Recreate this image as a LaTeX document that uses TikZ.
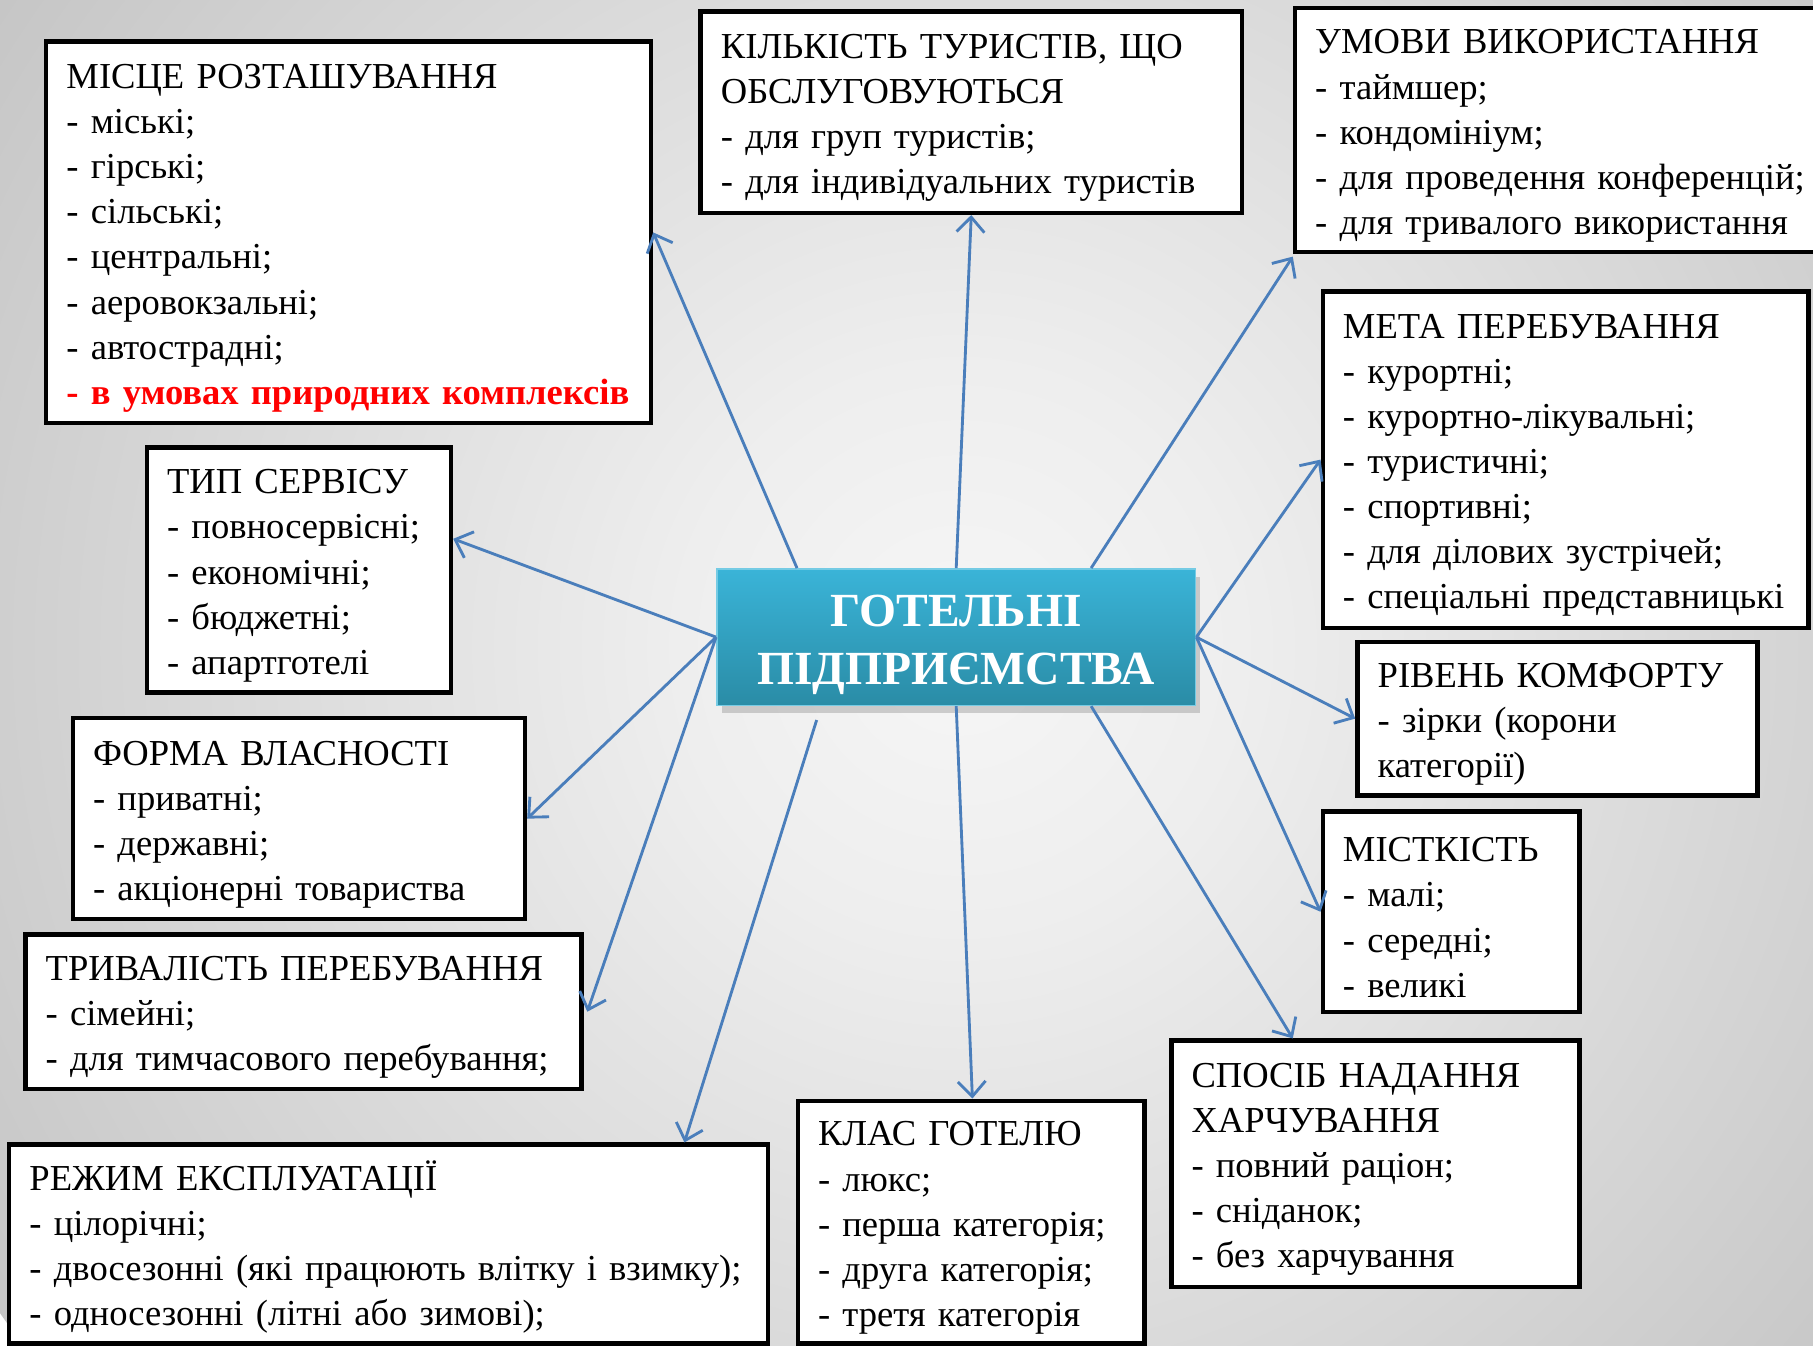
\documentclass[tikz,border=0pt]{standalone}
\usepackage{fontspec}
\setmainfont{Liberation Serif}
\usepackage{tikz}
\usetikzlibrary{arrows.meta,shadows}

\definecolor{bgmid}{HTML}{F6F6F6}
\definecolor{bgnear}{HTML}{EEEEEE}
\definecolor{bglight}{HTML}{BFBFBF}
\definecolor{bgedge}{HTML}{A2A2A2}
\definecolor{bgcorner}{HTML}{8A8A8A}
\definecolor{arrblue}{HTML}{4A7EBB}
\definecolor{hubtop}{HTML}{3AB4D8}
\definecolor{hubbot}{HTML}{2A8CA6}

\pgfdeclareradialshading{bgglow}{\pgfpoint{0bp}{0bp}}{color(0bp)=(bgmid); color(6bp)=(bgnear); color(28bp)=(bglight); color(41bp)=(bgedge); color(50bp)=(bgcorner)}

\tikzset{
	cat/.style={draw=black, line width=1.1pt, fill=white, align=left, inner xsep=0pt, inner ysep=0pt, font=\fontsize{9pt}{11.1pt}\selectfont, execute at begin node={\rule{0pt}{3.1mm}}},
	hubbox/.style={top color=hubtop, bottom color=hubbot, draw=hubtop!70!white, line width=0.4pt, text=white, align=center, inner sep=0pt, font=\fontsize{11.7pt}{14.2pt}\selectfont\bfseries, drop shadow={opacity=0.35, shadow xshift=0.4mm, shadow yshift=-0.7mm}},
	link/.style={draw=arrblue, line width=0.7pt, -{Straight Barb[length=1.3mm,width=2.4mm]}}
}

\begin{document}
\begin{tikzpicture}[x=0.1mm, y=-0.1mm]
	
	\useasboundingbox (0,0) rectangle (1568,1164);
	\begin{scope}
		\clip (0,0) rectangle (1568,1164);
		\shade[shading=bgglow] (830,560) circle (1010);
	\end{scope}
	
	\node[hubbox, minimum width=41.4mm, minimum height=11.8mm] (hub) at (827,551) {\rule{0pt}{4mm}ГОТЕЛЬНІ\\ПІДПРИЄМСТВА};
	
	\node[cat, minimum width=52.3mm, minimum height=33mm, text width=48.8mm] (mistse) at (301.5,201) {МІСЦЕ РОЗТАШУВАННЯ\\- міські;\\- гірські;\\- сільські;\\- центральні;\\- аеровокзальні;\\- автострадні;\\\mbox{\textcolor{red}{\textbf{- в умовах природних комплексів}}}};
	\node[cat, minimum width=46.8mm, minimum height=17.4mm, text width=43.3mm] (kilkist) at (840,97) {КІЛЬКІСТЬ ТУРИСТІВ, ЩО\\ОБСЛУГОВУЮТЬСЯ\\- для груп туристів;\\- для індивідуальних туристів};
	\node[cat, minimum width=48mm, minimum height=21.1mm, text width=44.5mm] (umovy) at (1360,112.5) {УМОВИ ВИКОРИСТАННЯ\\- таймшер;\\- кондомініум;\\- для проведення конференцій;\\- для тривалого використання};
	\node[cat, minimum width=42mm, minimum height=29.1mm, text width=38.5mm] (meta) at (1354,397.5) {МЕТА ПЕРЕБУВАННЯ\\- курортні;\\- курортно-лікувальні;\\- туристичні;\\- спортивні;\\- для ділових зустрічей;\\\mbox{- спеціальні представницькі}};
	\node[cat, minimum width=34.6mm, minimum height=13.3mm, text width=31.1mm] (riven) at (1347,621.5) {РІВЕНЬ КОМФОРТУ\\- зірки (корони\\категорії)};
	\node[cat, minimum width=22.2mm, minimum height=17.3mm, text width=18.7mm] (mistkist) at (1255,788.5) {МІСТКІСТЬ\\- малі;\\- середні;\\- великі};
	\node[cat, minimum width=35.3mm, minimum height=21.3mm, text width=31.8mm] (sposib) at (1189.5,1006.5) {СПОСІБ НАДАННЯ\\ХАРЧУВАННЯ\\- повний раціон;\\- сніданок;\\- без харчування};
	\node[cat, minimum width=30mm, minimum height=21mm, text width=26.5mm] (klas) at (840,1057) {КЛАС ГОТЕЛЮ\\- люкс;\\- перша категорія;\\- друга категорія;\\- третя категорія};
	\node[cat, minimum width=65.6mm, minimum height=17.2mm, text width=62.1mm] (rezhym) at (336,1076) {РЕЖИМ ЕКСПЛУАТАЦІЇ\\- цілорічні;\\\mbox{- двосезонні (які працюють влітку і взимку);}\\- односезонні (літні або зимові);};
	\node[cat, minimum width=48.1mm, minimum height=13.4mm, text width=44.6mm] (tryvalist) at (262.5,875) {ТРИВАЛІСТЬ ПЕРЕБУВАННЯ\\- сімейні;\\- для тимчасового перебування;};
	\node[cat, minimum width=39.1mm, minimum height=17.4mm, text width=35.6mm] (forma) at (258.5,708) {ФОРМА ВЛАСНОСТІ\\- приватні;\\- державні;\\- акціонерні товариства};
	\node[cat, minimum width=26.3mm, minimum height=21.2mm, text width=22.8mm] (typ) at (258.5,493) {ТИП СЕРВІСУ\\- повносервісні;\\- економічні;\\- бюджетні;\\- апартготелі};
	
	\coordinate (low) at ([xshift=8.7mm,yshift=-1.2mm]hub.south west);
	
	\draw[link] ([xshift=7mm]hub.north west) -- (mistse.east);
	\draw[link] (hub.north) -- (kilkist.south);
	\draw[link] ([xshift=-9.1mm]hub.north east) -- ([yshift=-0.2mm]umovy.south west);
	\draw[link] (hub.west) -- ([yshift=2.7mm]typ.east);
	\draw[link] (hub.west) -- (forma.east);
	\draw[link] (hub.west) -- ([xshift=0.3mm]tryvalist.east);
	\draw[link] (low) -- ([xshift=-7.4mm]rezhym.north east);
	\draw[link] (hub.south) -- ([xshift=0.1mm]klas.north);
	\draw[link] ([xshift=-9.1mm]hub.south east) -- ([xshift=10.7mm]sposib.north west);
	\draw[link] (hub.east) -- (meta.west);
	\draw[link] (hub.east) -- (riven.west);
	\draw[link] (hub.east) -- (mistkist.west);
	
\end{tikzpicture}
\end{document}
